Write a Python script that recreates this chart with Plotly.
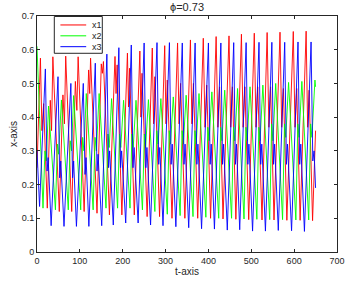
import plotly.graph_objects as go

# ---------------- data (turning points) ----------------
# x1 (red)
red_start = (0, 0.25)
red_end = (650, 0.36)
red_peak_t = [8, 37, 67, 96, 125, 155, 182, 211, 240, 269, 298, 328, 358, 388, 418, 448, 477, 507, 537, 567, 598, 628]
red_peak_v = [0.575, 0.579, 0.581, 0.579, 0.575, 0.565, 0.580, 0.590, 0.596, 0.605, 0.612, 0.620, 0.629, 0.634, 0.639, 0.641, 0.646, 0.649, 0.651, 0.652, 0.654, 0.655]
red_sec_t = [15.5, 31, 60.5, 89.5, 120.5, 150, 187, 216, 245, 275, 304, 335, 365, 396, 426, 456, 485, 515, 545, 575, 606, 635]
red_sec_v = [0.44, 0.45, 0.466, 0.506, 0.54, 0.558, 0.555, 0.545, 0.53, 0.52, 0.51, 0.50, 0.50, 0.495, 0.49, 0.49, 0.49, 0.49, 0.49, 0.485, 0.485, 0.48]
red_dip_t = [11.5, 34, 64, 93, 123, 152.5, 184.5, 213.5, 242.5, 272, 301, 331.5, 361.5, 392, 422, 452, 481, 511, 541, 571, 602, 631.5]
red_dip_v = [0.36, 0.36, 0.38, 0.42, 0.47, 0.53, 0.47, 0.43, 0.40, 0.38, 0.38, 0.38, 0.38, 0.37, 0.37, 0.37, 0.37, 0.37, 0.37, 0.37, 0.37, 0.37]
red_trough_t = [24, 52, 81, 110, 140, 169, 198, 227, 257, 286, 315, 345, 375, 405, 434, 464, 494, 525, 553, 583, 614, 643]
red_trough_v = [0.13, 0.12, 0.12, 0.12, 0.115, 0.11, 0.11, 0.11, 0.105, 0.105, 0.10, 0.10, 0.10, 0.10, 0.098, 0.097, 0.096, 0.095, 0.095, 0.094, 0.094, 0.093]

# x2 (green)
green_start = (0, 0.61)
green_end = (650, 0.49)
green_peak_t = [27, 57, 85.5, 115, 145, 174, 202, 231, 260, 289, 318, 348, 378, 408, 438, 468, 497, 527, 557, 587, 618, 648.5]
green_peak_v = [0.433, 0.451, 0.464, 0.47, 0.47, 0.455, 0.45, 0.45, 0.452, 0.455, 0.46, 0.465, 0.47, 0.475, 0.48, 0.485, 0.49, 0.495, 0.50, 0.503, 0.506, 0.51]
green_trough_t = [14, 43, 73, 102, 131, 161, 188, 217, 246, 275, 304, 334, 364, 394, 424, 454, 483, 513, 543, 573, 604, 634]
green_trough_v = [0.13, 0.125, 0.125, 0.125, 0.125, 0.13, 0.13, 0.13, 0.125, 0.12, 0.112, 0.108, 0.105, 0.103, 0.10, 0.10, 0.098, 0.097, 0.096, 0.096, 0.095, 0.095]
green_sh_t = [18.5, 47.5, 77.5, 106.5, 135.5, 165.5, 192.5, 221.5, 250.5, 279.5, 308.5, 338.5, 368.5, 398.5, 428.5, 458.5, 487.5, 517.5, 547.5, 577.5, 608.5, 638.5]
green_sh_v = [0.30, 0.32, 0.33, 0.34, 0.34, 0.35, 0.35, 0.35, 0.35, 0.36, 0.36, 0.36, 0.36, 0.37, 0.37, 0.37, 0.37, 0.37, 0.38, 0.38, 0.38, 0.38]
green_shdip_t = [21.5, 50.5, 80.5, 109.5, 138.5, 168.5, 195.5, 224.5, 253.5, 282.5, 311.5, 341.5, 371.5, 401.5, 431.5, 461.5, 490.5, 520.5, 550.5, 580.5, 611.5, 641.5]
green_shdip_v = [0.27, 0.29, 0.30, 0.30, 0.30, 0.31, 0.31, 0.31, 0.31, 0.32, 0.32, 0.32, 0.32, 0.33, 0.33, 0.33, 0.33, 0.33, 0.33, 0.34, 0.34, 0.34]

# x3 (blue)
blue_start = (0, 0.30)
blue_end = (650, 0.19)
blue_peak_t = [19.5, 49, 79, 108, 136, 163, 191, 220, 250, 280, 309, 339, 369, 400, 429, 459, 488, 518, 548, 578, 609, 639.5]
blue_peak_v = [0.543, 0.52, 0.50, 0.50, 0.56, 0.587, 0.606, 0.614, 0.62, 0.621, 0.621, 0.62, 0.62, 0.62, 0.62, 0.621, 0.621, 0.622, 0.622, 0.622, 0.623, 0.623]
blue_dip_t = [23.5, 53, 83, 112, 140, 167, 195, 224, 254, 284, 313, 343, 373, 404, 433, 463, 492, 522, 552, 582, 613, 643.5]
blue_dip_v = [0.24, 0.22, 0.22, 0.23, 0.24, 0.25, 0.25, 0.25, 0.25, 0.26, 0.26, 0.26, 0.26, 0.26, 0.26, 0.26, 0.26, 0.26, 0.26, 0.26, 0.26, 0.27]
blue_sec_t = [26, 55.5, 85.5, 114.5, 142.5, 169.5, 197.5, 226.5, 256.5, 286.5, 315.5, 345.5, 375.5, 406.5, 435.5, 465.5, 494.5, 524.5, 554.5, 584.5, 615.5, 646.5]
blue_sec_v = [0.28, 0.27, 0.27, 0.28, 0.29, 0.30, 0.30, 0.31, 0.31, 0.31, 0.32, 0.32, 0.32, 0.32, 0.32, 0.32, 0.32, 0.32, 0.32, 0.32, 0.32, 0.30]
blue_trough_t = [6, 33, 63, 92, 121, 151, 178, 207, 236, 265, 294, 324, 354, 384, 414, 444, 473, 503, 533, 563, 594, 624]
blue_trough_v = [0.135, 0.078, 0.076, 0.076, 0.076, 0.078, 0.08, 0.086, 0.086, 0.08, 0.078, 0.075, 0.072, 0.069, 0.068, 0.065, 0.066, 0.062, 0.062, 0.064, 0.063, 0.061]

x_ticks = [0, 100, 200, 300, 400, 500, 600, 700]
y_ticks = [0, 0.1, 0.2, 0.3, 0.4, 0.5, 0.6, 0.7]
y_tick_labels = ["0", "0.1", "0.2", "0.3", "0.4", "0.5", "0.6", "0.7"]
series_names = ["x1", "x2", "x3"]
series_colors = ["#ff0000", "#00ff00", "#0000ff"]


def assemble(start, end, *pairs):
    pts = [start, end]
    for ts, vs in pairs:
        pts.extend(zip(ts, vs))
    pts.sort(key=lambda p: p[0])
    return [p[0] for p in pts], [p[1] for p in pts]


red_t, red_v = assemble(red_start, red_end, (red_peak_t, red_peak_v), (red_sec_t, red_sec_v),
                        (red_dip_t, red_dip_v), (red_trough_t, red_trough_v))
green_t, green_v = assemble(green_start, green_end, (green_peak_t, green_peak_v),
                            (green_trough_t, green_trough_v), (green_sh_t, green_sh_v),
                            (green_shdip_t, green_shdip_v))
blue_t, blue_v = assemble(blue_start, blue_end, (blue_peak_t, blue_peak_v), (blue_dip_t, blue_dip_v),
                          (blue_sec_t, blue_sec_v), (blue_trough_t, blue_trough_v))

ink = "#262626"
font_family = "Liberation Sans, Arial, Helvetica, sans-serif"

fig = go.Figure()
for name, color, (tt, vv) in zip(series_names, series_colors,
                                 [(red_t, red_v), (green_t, green_v), (blue_t, blue_v)]):
    fig.add_trace(go.Scatter(x=tt, y=vv, mode="lines", name=name,
                             line=dict(color=color, width=0.9), showlegend=False))

fig.update_layout(
    width=355, height=287,
    margin=dict(l=37, r=18, t=16, b=35),
    paper_bgcolor="white", plot_bgcolor="white",
    font=dict(family=font_family, size=9, color=ink),
    title=dict(text="ϕ=0.73", x=0.5, xref="paper", y=1 - 7.5 / 287, yref="container",
               xanchor="center", yanchor="middle", font=dict(size=11, color=ink)),
)
fig.update_xaxes(range=[0, 700], tickvals=x_ticks, showline=True, linecolor=ink, linewidth=1,
                 mirror="ticks", ticks="inside", ticklen=3, tickcolor=ink, showgrid=False,
                 zeroline=False, automargin=False,
                 title=dict(text="t-axis", font=dict(size=10), standoff=3))
fig.update_yaxes(range=[0, 0.7], tickvals=y_ticks, ticktext=y_tick_labels, showline=True,
                 linecolor=ink, linewidth=1, mirror="ticks", ticks="inside", ticklen=3,
                 tickcolor=ink, showgrid=False, zeroline=False, automargin=False,
                 title=dict(text="x-axis", font=dict(size=10), standoff=2))

# legend box drawn in the top-left corner of the axes
lx0, lx1, ly0, ly1 = 0.0577, 0.2177, 0.842, 0.998
fig.add_shape(type="rect", xref="paper", yref="paper", x0=lx0, x1=lx1, y0=ly0, y1=ly1,
              fillcolor="white", line=dict(color=ink, width=1), layer="above")
row_y = [0.962, 0.916, 0.870]
for name, color, yy in zip(series_names, series_colors, row_y):
    fig.add_shape(type="line", xref="paper", yref="paper", x0=0.078, x1=0.164, y0=yy, y1=yy,
                  line=dict(color=color, width=1), layer="above")
    fig.add_annotation(text=name, xref="paper", yref="paper", x=0.178, y=yy, xanchor="left",
                       yanchor="middle", showarrow=False, font=dict(size=9, color=ink))

fig.write_html("out.html", config={"displayModeBar": False},
               post_script="document.body.style.margin='0';")
